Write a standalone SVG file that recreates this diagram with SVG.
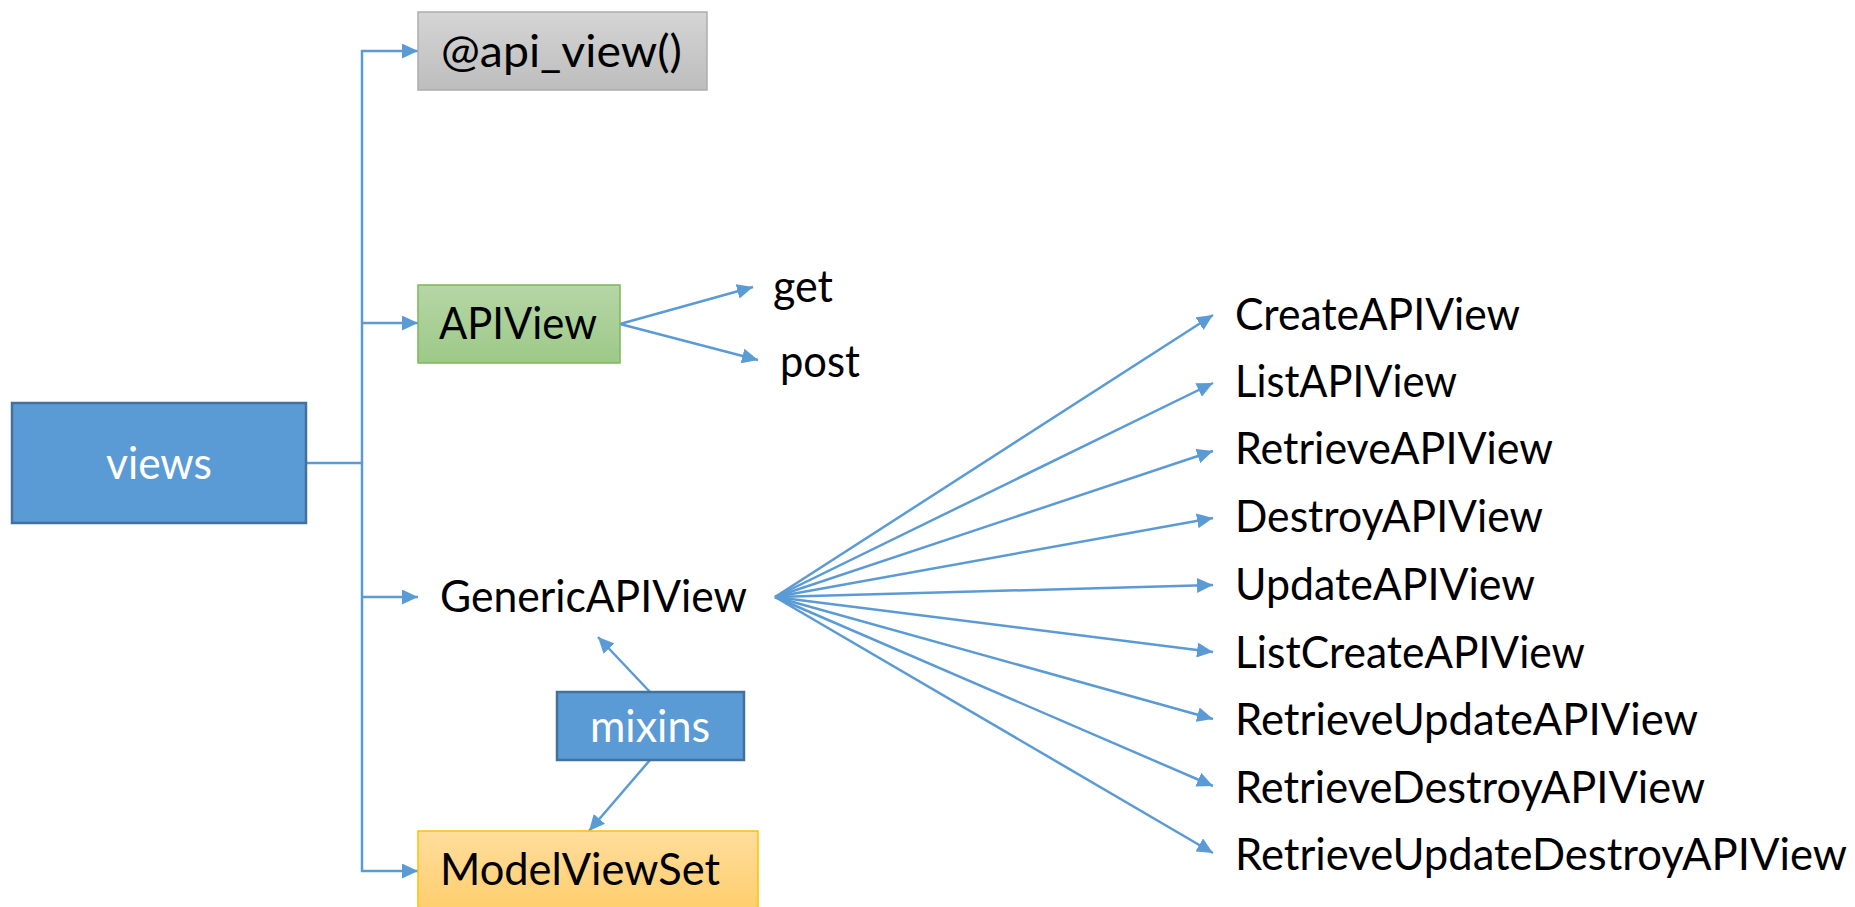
<svg xmlns="http://www.w3.org/2000/svg" width="1855" height="907" viewBox="0 0 1855 907">
<style>
  .t { font-family: Lato, "Open Sans", "Liberation Sans", sans-serif; font-size: 44px; fill: #000; }
  .w { fill: #fff; }
  .ln { stroke: #5b9bd5; stroke-width: 2.5; fill: none; }
  .arr { marker-end: url(#ah); }
  .blue { fill: #5b9bd5; stroke: #41719c; stroke-width: 2.5; }
</style>
<defs>
  <marker id="ah" markerUnits="userSpaceOnUse" markerWidth="16" markerHeight="15" refX="16" refY="7.5" orient="auto">
    <path d="M0,0 L16,7.5 L0,15 z" fill="#5b9bd5"/>
  </marker>
  <linearGradient id="gGray" x1="0" y1="0" x2="0" y2="1">
    <stop offset="0" stop-color="#d5d5d5"/>
    <stop offset="1" stop-color="#bdbdbd"/>
  </linearGradient>
  <linearGradient id="gGreen" x1="0" y1="0" x2="0" y2="1">
    <stop offset="0" stop-color="#b6d6a6"/>
    <stop offset="1" stop-color="#9dc988"/>
  </linearGradient>
  <linearGradient id="gOrange" x1="0" y1="0" x2="0" y2="1">
    <stop offset="0" stop-color="#ffdd9d"/>
    <stop offset="1" stop-color="#ffcc66"/>
  </linearGradient>
</defs>
<rect width="1855" height="907" fill="#fff"/>

<g id="connectors">
  <line class="ln" x1="306" y1="463" x2="362" y2="463"/>
  <line class="ln" x1="362" y1="50" x2="362" y2="872"/>
  <line class="ln arr" x1="361" y1="51" x2="418" y2="51"/>
  <line class="ln arr" x1="361" y1="323" x2="418" y2="323"/>
  <line class="ln arr" x1="361" y1="597" x2="418" y2="597"/>
  <line class="ln arr" x1="361" y1="871" x2="418" y2="871"/>
  <line class="ln arr" x1="620" y1="324" x2="753" y2="287"/>
  <line class="ln arr" x1="620" y1="324" x2="758" y2="360"/>
  <line class="ln arr" x1="650" y1="692" x2="598" y2="637"/>
  <line class="ln arr" x1="650" y1="760" x2="589" y2="831"/>
  <line class="ln arr" x1="775" y1="597" x2="1213" y2="315"/>
  <line class="ln arr" x1="775" y1="597" x2="1213" y2="383"/>
  <line class="ln arr" x1="775" y1="597" x2="1213" y2="451"/>
  <line class="ln arr" x1="775" y1="597" x2="1213" y2="518"/>
  <line class="ln arr" x1="775" y1="597" x2="1213" y2="585"/>
  <line class="ln arr" x1="775" y1="597" x2="1213" y2="652"/>
  <line class="ln arr" x1="775" y1="597" x2="1213" y2="719"/>
  <line class="ln arr" x1="775" y1="597" x2="1213" y2="786"/>
  <line class="ln arr" x1="775" y1="597" x2="1213" y2="853"/>
</g>

<g id="views">
  <rect class="blue" x="12" y="403" width="294" height="120"/>
  <text class="t w" x="106" y="479" textLength="106" lengthAdjust="spacingAndGlyphs">views</text>
</g>

<g id="api_view">
  <rect x="418" y="12" width="289" height="78" fill="url(#gGray)" stroke="#adadad" stroke-width="1.5"/>
  <text class="t" x="441" y="67" textLength="241" lengthAdjust="spacingAndGlyphs">@api_view()</text>
</g>

<g id="APIView">
  <rect x="418" y="285" width="202" height="78" fill="url(#gGreen)" stroke="#7cb85a" stroke-width="1.5"/>
  <text class="t" x="439" y="339" textLength="158" lengthAdjust="spacingAndGlyphs">APIView</text>
</g>

<g id="get">
  <text class="t" x="773" y="302" textLength="60" lengthAdjust="spacingAndGlyphs">get</text>
</g>
<g id="post">
  <text class="t" x="780" y="377" textLength="80" lengthAdjust="spacingAndGlyphs">post</text>
</g>

<g id="GenericAPIView">
  <text class="t" x="440" y="612" textLength="307" lengthAdjust="spacingAndGlyphs">GenericAPIView</text>
</g>

<g id="mixins">
  <rect class="blue" x="557" y="692" width="187" height="68"/>
  <text class="t w" x="590" y="742" textLength="120" lengthAdjust="spacingAndGlyphs">mixins</text>
</g>

<g id="ModelViewSet">
  <rect x="418" y="831" width="340" height="90" fill="url(#gOrange)" stroke="#ffc000" stroke-width="1.5"/>
  <text class="t" x="440" y="885" textLength="280" lengthAdjust="spacingAndGlyphs">ModelViewSet</text>
</g>

<g id="CreateAPIView"><text class="t" x="1235" y="330" textLength="285" lengthAdjust="spacingAndGlyphs">CreateAPIView</text></g>
<g id="ListAPIView"><text class="t" x="1235" y="397" textLength="222" lengthAdjust="spacingAndGlyphs">ListAPIView</text></g>
<g id="RetrieveAPIView"><text class="t" x="1235" y="464" textLength="318" lengthAdjust="spacingAndGlyphs">RetrieveAPIView</text></g>
<g id="DestroyAPIView"><text class="t" x="1235" y="532" textLength="308" lengthAdjust="spacingAndGlyphs">DestroyAPIView</text></g>
<g id="UpdateAPIView"><text class="t" x="1235" y="600" textLength="300" lengthAdjust="spacingAndGlyphs">UpdateAPIView</text></g>
<g id="ListCreateAPIView"><text class="t" x="1235" y="668" textLength="350" lengthAdjust="spacingAndGlyphs">ListCreateAPIView</text></g>
<g id="RetrieveUpdateAPIView"><text class="t" x="1235" y="735" textLength="463" lengthAdjust="spacingAndGlyphs">RetrieveUpdateAPIView</text></g>
<g id="RetrieveDestroyAPIView"><text class="t" x="1235" y="803" textLength="470" lengthAdjust="spacingAndGlyphs">RetrieveDestroyAPIView</text></g>
<g id="RetrieveUpdateDestroyAPIView"><text class="t" x="1235" y="870" textLength="612" lengthAdjust="spacingAndGlyphs">RetrieveUpdateDestroyAPIView</text></g>
</svg>
